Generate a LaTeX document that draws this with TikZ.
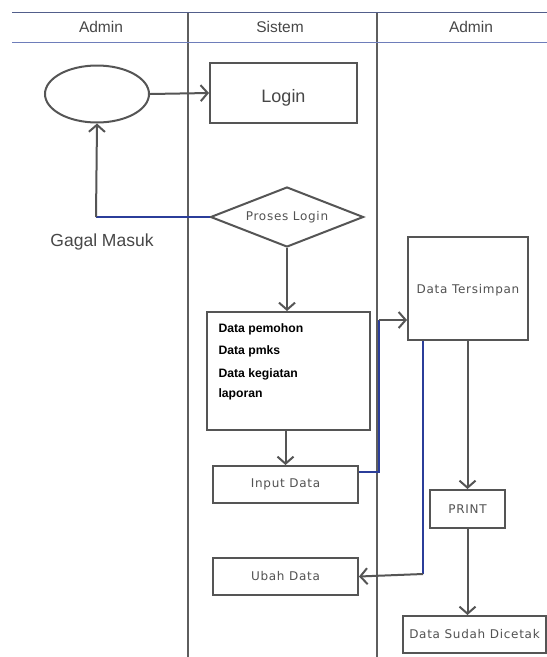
\documentclass[tikz,border=0pt]{standalone}
\usepackage{fontspec}
\setmainfont{Liberation Sans}
\newfontfamily\dvs[LetterSpace=6]{DejaVu Sans}
\usetikzlibrary{arrows.meta,shapes.geometric}
\definecolor{lg}{HTML}{555555}
\definecolor{lanec}{HTML}{5E5E5E}
\definecolor{bl}{HTML}{2B3E9A}
\definecolor{hl}{HTML}{6E7DBA}
\begin{document}
\begin{tikzpicture}[x=1pt,y=-1pt,
  box/.style={draw=lg,line width=2pt,rectangle,inner sep=0pt,fill=white},
  lbl/.style={text=black!72},
  small/.style={text=black!68,font=\dvs\fontsize{12}{14}\selectfont},
  dtext/.style={anchor=west,font=\bfseries\fontsize{12.2}{14}\selectfont},
  flow/.style={draw=lg,line width=2pt,-{Straight Barb[length=7pt,width=16pt,line width=2pt]}},
  bflow/.style={draw=bl,line width=2pt},
  lane/.style={draw=lanec,line width=2pt},
  hdr/.style={text=black!72,font=\fontsize{15.5}{17}\selectfont}]
\useasboundingbox (0,0) rectangle (547,657);
\fill[white] (0,0) rectangle (547,657);
% swimlanes
\draw[lane] (188,12) -- (188,657);
\draw[lane] (377,12) -- (377,657);
\draw[draw=hl!75!black,line width=1.8pt] (12,12.5) -- (547,12.5);
\draw[draw=hl,line width=1.8pt] (12,42.5) -- (547,42.5);
\node[hdr] (h1) at (101,27) {Admin};
\node[hdr] (h2) at (280,27) {Sistem};
\node[hdr] (h3) at (471,27) {Admin};
% nodes
\node[draw=lg,line width=2pt,ellipse,minimum width=104pt,minimum height=57pt,inner sep=0pt] (start) at (97,94) {};
\node[box,minimum width=147pt,minimum height=60pt,lbl,font=\fontsize{18}{20}\selectfont,text height=23pt,text depth=4pt] (login) at (283.5,93) {Login};
\node[draw=lg,line width=2pt,diamond,aspect=2.55,minimum width=153pt,minimum height=60pt,inner sep=0pt,small] (proses) at (287,217) {Proses Login};
\node[lbl,font=\fontsize{17.5}{19}\selectfont] (gagal) at (102,242) {Gagal Masuk};
\node[box,minimum width=163pt,minimum height=118pt] (data) at (288.5,371) {};
\node[dtext] (d1) at (215,329) {Data pemohon};
\node[dtext] (d2) at (215,351) {Data pmks};
\node[dtext] (d3) at (215,374) {Data kegiatan};
\node[dtext] (d4) at (215,394) {laporan};
\node[box,minimum width=120pt,minimum height=103pt,small,text height=12pt,text depth=2.5pt] (simpan) at (468,288.5) {Data Tersimpan};
\node[box,minimum width=145pt,minimum height=37pt,small] (input) at (285.5,484.5) {Input Data};
\node[box,minimum width=145pt,minimum height=37pt,small] (ubah) at (285.5,576.5) {Ubah Data};
\node[box,minimum width=75pt,minimum height=38pt,small] (print) at (467.5,509) {PRINT};
\node[box,minimum width=143pt,minimum height=37pt,small] (cetak) at (474.5,634.5) {Data Sudah Dicetak};
% connectors
\draw[flow] (start.east) -- (login.west);
\coordinate (c1) at (96,217);
\draw[bflow] (proses.west) -- (c1);
\draw[flow] (c1) -- (start.south);
\draw[flow] (proses.south) -- (data.north -| proses.south);
\draw[flow] (data.south -| input.north) -- (input.north);
\coordinate (c2) at (379,472);
\coordinate (c3) at (379,320);
\draw[bflow] (input.east |- c2) -- (c2) -- (c3);
\draw[flow] (c3) -- (simpan.west |- c3);
\coordinate (c4) at (423,574);
\draw[bflow] (simpan.south -| c4) -- (c4);
\draw[flow] (c4) -- (ubah.east);
\draw[flow] (simpan.south -| print.north) -- (print.north);
\draw[flow] (print.south) -- (cetak.north -| print.south);
\end{tikzpicture}
\end{document}
